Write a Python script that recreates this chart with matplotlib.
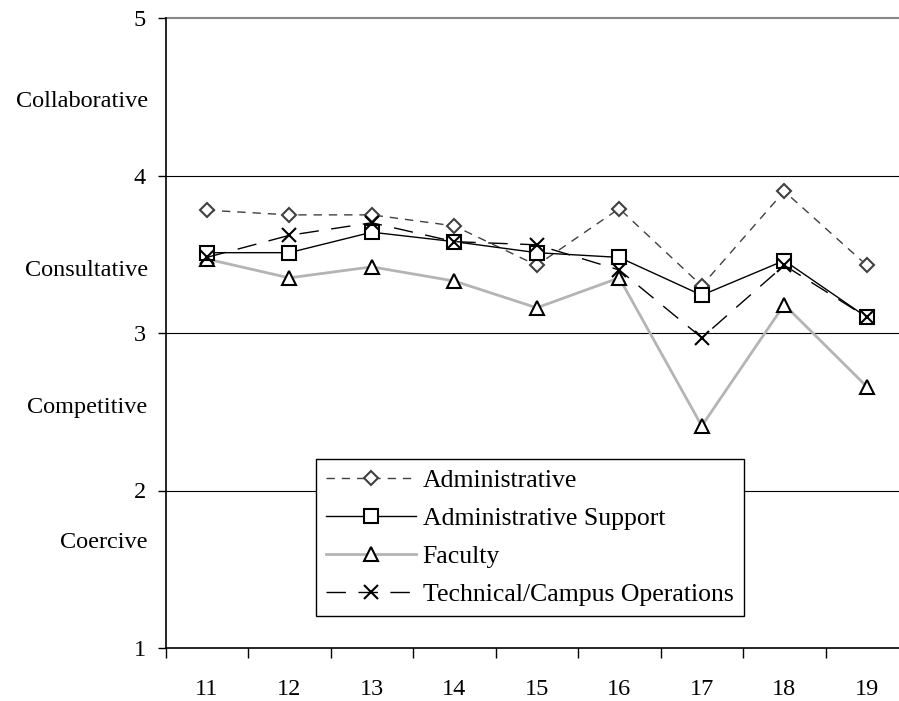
import matplotlib.pyplot as plt
from matplotlib.ticker import FixedLocator

plt.rcParams['font.family'] = ['Liberation Serif', 'DejaVu Serif']

# данные
groups = [11, 12, 13, 14, 15, 16, 17, 18, 19]
administrative = [3.78, 3.75, 3.75, 3.68, 3.43, 3.79, 3.30, 3.90, 3.43]
admin_support = [3.51, 3.51, 3.64, 3.58, 3.51, 3.48, 3.24, 3.46, 3.10]
faculty = [3.47, 3.35, 3.42, 3.33, 3.16, 3.35, 2.41, 3.18, 2.66]
technical = [3.48, 3.62, 3.70, 3.58, 3.56, 3.40, 2.97, 3.43, 3.10]

styles = ['Collaborative', 'Consultative', 'Competitive', 'Coercive']
style_pos = [4.47, 3.40, 2.53, 1.67]

fig = plt.figure(figsize=(8.99, 7.01), dpi=100)
W, H = 899, 701
ax = fig.add_axes([165.5 / W, 53 / H, (908 - 165.5) / W, 630 / H])

ax.plot(groups, administrative, color='#404040', lw=1, ls=(0, (6, 5)),
        marker='D', ms=7.5, mfc='white', mec='#404040', mew=1.5,
        label='Administrative', zorder=3)
ax.plot(groups, admin_support, color='black', lw=1, ls='-',
        marker='s', ms=10.5, mfc='white', mec='black', mew=1.5,
        label='Administrative Support', zorder=4)
ax.plot(groups, faculty, color='#b4b4b4', lw=2, ls='-',
        marker='^', ms=10, mfc='white', mec='black', mew=1.5,
        label='Faculty', zorder=3)
ax.plot(groups, technical, color='black', lw=1, ls=(0, (14, 9)),
        marker='x', ms=10, mec='black', mew=1.5,
        label='Technical/Campus Operations', zorder=5)

ax.set_xlim(10.5, 19.5)
ax.set_ylim(1, 5)

# сетка
for v in [2, 3, 4]:
    ax.axhline(v, color='black', lw=0.8, zorder=1)
ax.axhline(5, color='#888888', lw=1.5, zorder=1, clip_on=False)

ax.spines['top'].set_visible(False)
ax.spines['right'].set_visible(False)
ax.spines['left'].set_linewidth(1.2)
ax.spines['bottom'].set_linewidth(1.2)

ax.set_xticks(groups)
ax.set_xticklabels([str(g) for g in groups], fontsize=17.5)
ax.xaxis.set_minor_locator(FixedLocator([g + 0.5 for g in [10] + groups]))
ax.tick_params(axis='x', which='major', length=0, pad=22)
ax.tick_params(axis='x', which='minor', length=7, width=1, direction='out')

ax.set_yticks([1, 2, 3, 4, 5])
ax.set_yticklabels(['1', '2', '3', '4', '5'], fontsize=17.5)
ax.tick_params(axis='y', length=6, width=1, direction='out', pad=8)

for name, pos in zip(styles, style_pos):
    ax.text(-0.024, pos, name, transform=ax.get_yaxis_transform(),
            ha='right', va='center', fontsize=17.5)

leg = ax.legend(loc='upper left', bbox_to_anchor=(316 / W, 1 - 459 / H),
                bbox_transform=fig.transFigure, borderaxespad=0,
                fontsize=18.5, frameon=True,
                fancybox=False, edgecolor='black', framealpha=1,
                handlelength=3.5, handletextpad=0.25, labelspacing=0.58,
                borderpad=0.4)
leg.get_frame().set_linewidth(1)
leg.set_zorder(10)

fig.savefig('out.png', dpi=100)
